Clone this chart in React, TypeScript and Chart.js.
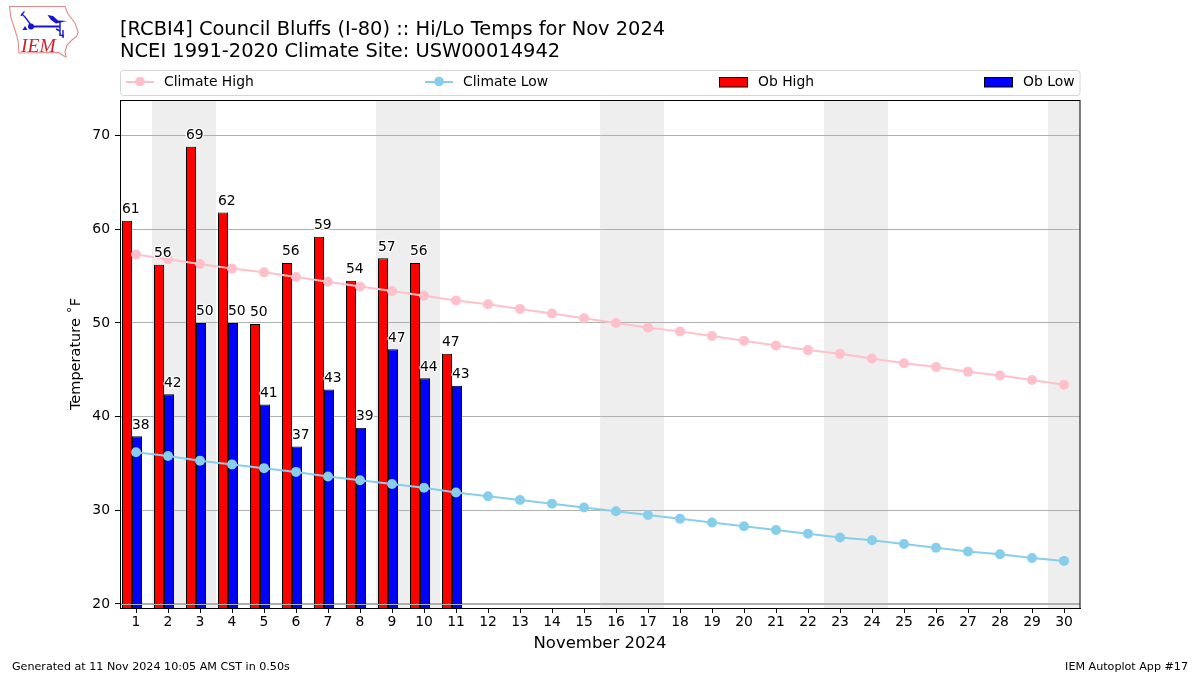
import React, { useEffect, useRef } from "react";
import { Chart, registerables } from "chart.js";

Chart.register(...registerables);

const days = Array.from({ length: 30 }, (_, i) => String(i + 1));
const climateHigh = [57.3, 56.8, 56.3, 55.8, 55.4, 54.9, 54.4, 53.9, 53.4, 52.9, 52.4, 52.0, 51.5, 51.0, 50.5, 50.0, 49.5, 49.1, 48.6, 48.1, 47.6, 47.1, 46.7, 46.2, 45.7, 45.3, 44.8, 44.4, 43.9, 43.4];
const climateLow = [36.2, 35.8, 35.3, 34.9, 34.5, 34.1, 33.6, 33.2, 32.8, 32.4, 31.9, 31.5, 31.1, 30.7, 30.3, 29.9, 29.5, 29.1, 28.7, 28.3, 27.9, 27.5, 27.1, 26.8, 26.4, 26.0, 25.6, 25.3, 24.9, 24.6];
const obHigh = [60.9, 56.2, 68.8, 61.8, 49.9, 56.4, 59.2, 54.5, 56.9, 56.4, 46.7];
const obLow = [37.9, 42.4, 50.0, 50.0, 41.3, 36.8, 42.9, 38.8, 47.2, 44.1, 43.3];
const obHighLabels = ["61", "56", "69", "62", "50", "56", "59", "54", "57", "56", "47"];
const obLowLabels = ["38", "42", "50", "50", "41", "37", "43", "39", "47", "44", "43"];
const weekendBands = [[1, 2], [8, 9], [15, 16], [22, 23], [29, 29]];
const yTickValues = [20, 30, 40, 50, 60, 70];
const titleLines = ["[RCBI4] Council Bluffs (I-80) :: Hi/Lo Temps for Nov 2024", "NCEI 1991-2020 Climate Site: USW00014942"];
const footerLeft = "Generated at 11 Nov 2024 10:05 AM CST in 0.50s";
const footerRight = "IEM Autoplot App #17";
const FONT = '"DejaVu Sans"';

const decorations = {
  id: "decorations",
  afterDatasetsUpdate(chart: any) {
    // nudge the bars one pixel so their edges land where the reference has them
    [2, 3].forEach((i) => chart.getDatasetMeta(i).data.forEach((b: any) => { b.x += 1; }));
  },
  beforeDraw(chart: any) {
    const { ctx, chartArea: a, scales } = chart;
    ctx.save();
    ctx.fillStyle = "#ffffff";
    ctx.fillRect(0, 0, chart.width, chart.height);
    ctx.fillStyle = "#eeeeee";
    const step = scales.x.getPixelForValue(1) - scales.x.getPixelForValue(0);
    weekendBands.forEach(([from, to]) => {
      const l = scales.x.getPixelForValue(from) - step / 2;
      const r = Math.min(scales.x.getPixelForValue(to) + step / 2, a.right);
      ctx.fillRect(l, a.top, r - l, a.bottom - a.top);
    });
    ctx.restore();
  },
  afterDatasetsDraw(chart: any) {
    const { ctx, chartArea: a, scales } = chart;
    ctx.save();
    // the lowest grid line runs over the bars
    ctx.strokeStyle = "#b0b0b0";
    ctx.lineWidth = 1;
    const y20 = Math.round(scales.y.getPixelForValue(20)) + 0.5;
    ctx.beginPath();
    ctx.moveTo(a.left, y20);
    ctx.lineTo(a.right, y20);
    ctx.stroke();

    // value labels, with a white halo, left aligned on their bars
    ctx.font = `13.9px ${FONT}`;
    ctx.textAlign = "left";
    ctx.textBaseline = "alphabetic";
    ctx.lineJoin = "round";
    const label = (dsIndex: number, texts: string[]) => {
      const bars = chart.getDatasetMeta(dsIndex).data;
      texts.forEach((t, i) => {
        const b = bars[i];
        const x = b.x - b.width / 2;
        const y = b.y - 7.5;
        ctx.strokeStyle = "#ffffff";
        ctx.lineWidth = 2.5;
        ctx.strokeText(t, x, y);
        ctx.fillStyle = "#000000";
        ctx.fillText(t, x, y);
      });
    };
    label(2, obHighLabels);
    label(3, obLowLabels);
    ctx.restore();
  },
  afterDraw(chart: any) {
    const { ctx, chartArea: a, data } = chart;
    ctx.save();
    ctx.strokeStyle = "#000000";
    ctx.lineWidth = 1;
    ctx.strokeRect(Math.round(a.left) + 0.5, Math.round(a.top) + 0.5, a.right - a.left - 0.5, a.bottom - a.top);

    // titles
    ctx.fillStyle = "#000000";
    ctx.textBaseline = "alphabetic";
    ctx.textAlign = "left";
    ctx.font = `19.46px ${FONT}`;
    ctx.fillText(titleLines[0], 120, 35);
    ctx.fillText(titleLines[1], 120, 57);
    ctx.font = `11.13px ${FONT}`;
    ctx.fillText(footerLeft, 12, 670);
    ctx.textAlign = "right";
    ctx.fillText(footerRight, 1188, 670);

    // legend frame
    ctx.fillStyle = "#ffffff";
    ctx.strokeStyle = "#d5d5d5";
    ctx.beginPath();
    ctx.roundRect(120.5, 70.5, 959.5, 25, 3);
    ctx.fill();
    ctx.stroke();

    // legend entries, spread over the frame
    const handleX = [126, 425, 719, 984];
    const cy = 82;
    ctx.textAlign = "left";
    ctx.textBaseline = "middle";
    ctx.font = `13.9px ${FONT}`;
    data.datasets.slice(0, 4).forEach((ds: any, i: number) => {
      const x = handleX[i];
      if (ds.type === "line") {
        ctx.strokeStyle = ds.borderColor;
        ctx.lineWidth = 2;
        ctx.beginPath();
        ctx.moveTo(x, cy);
        ctx.lineTo(x + 28, cy);
        ctx.stroke();
        ctx.fillStyle = ds.borderColor;
        ctx.beginPath();
        ctx.arc(x + 14, cy - 0.5, 4.8, 0, Math.PI * 2);
        ctx.fill();
      } else {
        ctx.fillStyle = ds.backgroundColor;
        ctx.fillRect(x, cy - 5, 28, 10);
        ctx.strokeStyle = "#000000";
        ctx.lineWidth = 1;
        ctx.strokeRect(x + 0.5, cy - 4.5, 28, 9.5);
      }
      ctx.fillStyle = "#000000";
      ctx.fillText(ds.label, x + (ds.type === "line" ? 38 : 39), cy);
    });
    ctx.restore();
  },
};

function Logo() {
  return (
    <svg width={90} height={65} style={{ position: "absolute", left: 0, top: 0 }}>
      <path
        d="M9.5 6.5 L65 6.5 L68 14 L75 23 L78 32 L77 36 L72 40 L67 45 L65 52 L66 57 L62 55 L59 52.5 L19 53 L18 40 L15 30 L11 18 Z"
        fill="#ffffff"
        stroke="#e58a8a"
        strokeWidth={1.1}
      />
      <g stroke="#1414d2" fill="#1414d2">
        <path d="M31 26.5 L60 26.5" strokeWidth={2} fill="none" />
        <circle cx={31} cy={26.5} r={3} stroke="none" />
        <path d="M31 25 L25 17 L22 14 L24.5 11.5 M22 14 L21 16" strokeWidth={1.3} fill="none" />
        <path d="M47.5 15 L53 16 L58 20.5 L67 21 L56 23.5 L51 20 Z" stroke="none" />
        <path d="M60 22 L60 36 M60 31 L56 29 M60 35 L64 36 M63 30 L63 38" strokeWidth={1.4} fill="none" />
        <path d="M22.5 30 L25 26 L27.5 30 Z" stroke="none" />
      </g>
      <text x={21} y={51.5} fontFamily='"Liberation Serif"' fontStyle="italic" fontSize={19.5} fill="#d6222a">
        IEM
      </text>
    </svg>
  );
}

export default function App() {
  const ref = useRef<HTMLCanvasElement>(null);

  useEffect(() => {
    document.body.style.margin = "0";
    const chart = new Chart(ref.current as HTMLCanvasElement, {
      type: "bar",
      data: {
        labels: days,
        datasets: [
          { type: "line", label: "Climate High", data: climateHigh, borderColor: "#ffc0cb", backgroundColor: "#ffc0cb", borderWidth: 2, pointRadius: 5, pointBorderWidth: 0, tension: 0, order: 1 },
          { type: "line", label: "Climate Low", data: climateLow, borderColor: "#87ceeb", backgroundColor: "#87ceeb", borderWidth: 2, pointRadius: 5, pointBorderWidth: 0, tension: 0, order: 1 },
          { type: "bar", label: "Ob High", data: obHigh, backgroundColor: "#ff0000", borderColor: "#000000", borderWidth: 1, order: 2 },
          { type: "bar", label: "Ob Low", data: obLow, backgroundColor: "#0000ff", borderColor: "#000000", borderWidth: 1, order: 2 },
          // empty third slot: keeps Ob Low centred on the tick and Ob High to its left
          { type: "bar", label: "", data: [], order: 2 },
        ] as any,
      },
      options: {
        animation: false,
        responsive: false,
        devicePixelRatio: 1,
        datasets: { bar: { categoryPercentage: 0.9375, barPercentage: 1 } },
        layout: { padding: { top: 100, right: 120, left: 0, bottom: 0 } },
        plugins: { legend: { display: false }, title: { display: false }, tooltip: { enabled: false } },
        scales: {
          x: {
            afterFit: (s: any) => { s.height = 67; },
            grid: { offset: false, drawOnChartArea: false, drawTicks: true, tickColor: "#000000", tickLength: 5 },
            border: { color: "#000000" },
            ticks: { color: "#000000", font: { family: FONT, size: 13.9 }, maxRotation: 0, autoSkip: false, padding: 1 },
            title: { display: true, text: "November 2024", color: "#000000", font: { family: FONT, size: 16.5 }, padding: { top: 0, bottom: 21 } },
          },
          y: {
            min: 19.57,
            max: 73.8,
            afterFit: (s: any) => { s.width = 120; },
            afterBuildTicks: (s: any) => { s.ticks = yTickValues.map((value) => ({ value })); },
            grid: { color: "#b0b0b0", lineWidth: 1, tickColor: "#000000", tickLength: 5 },
            border: { color: "#000000" },
            ticks: { color: "#000000", font: { family: FONT, size: 13.9 }, padding: 5, includeBounds: false },
            title: { display: true, text: "Temperature ˚F", color: "#000000", font: { family: FONT, size: 14.5 }, padding: { top: 68, bottom: 0 } },
          },
        },
      } as any,
      plugins: [decorations],
    });
    return () => chart.destroy();
  }, []);

  return (
    <div style={{ position: "relative", width: 1200, height: 675 }}>
      <canvas ref={ref} width={1200} height={675} style={{ display: "block", width: 1200, height: 675 }} />
      <Logo />
    </div>
  );
}
